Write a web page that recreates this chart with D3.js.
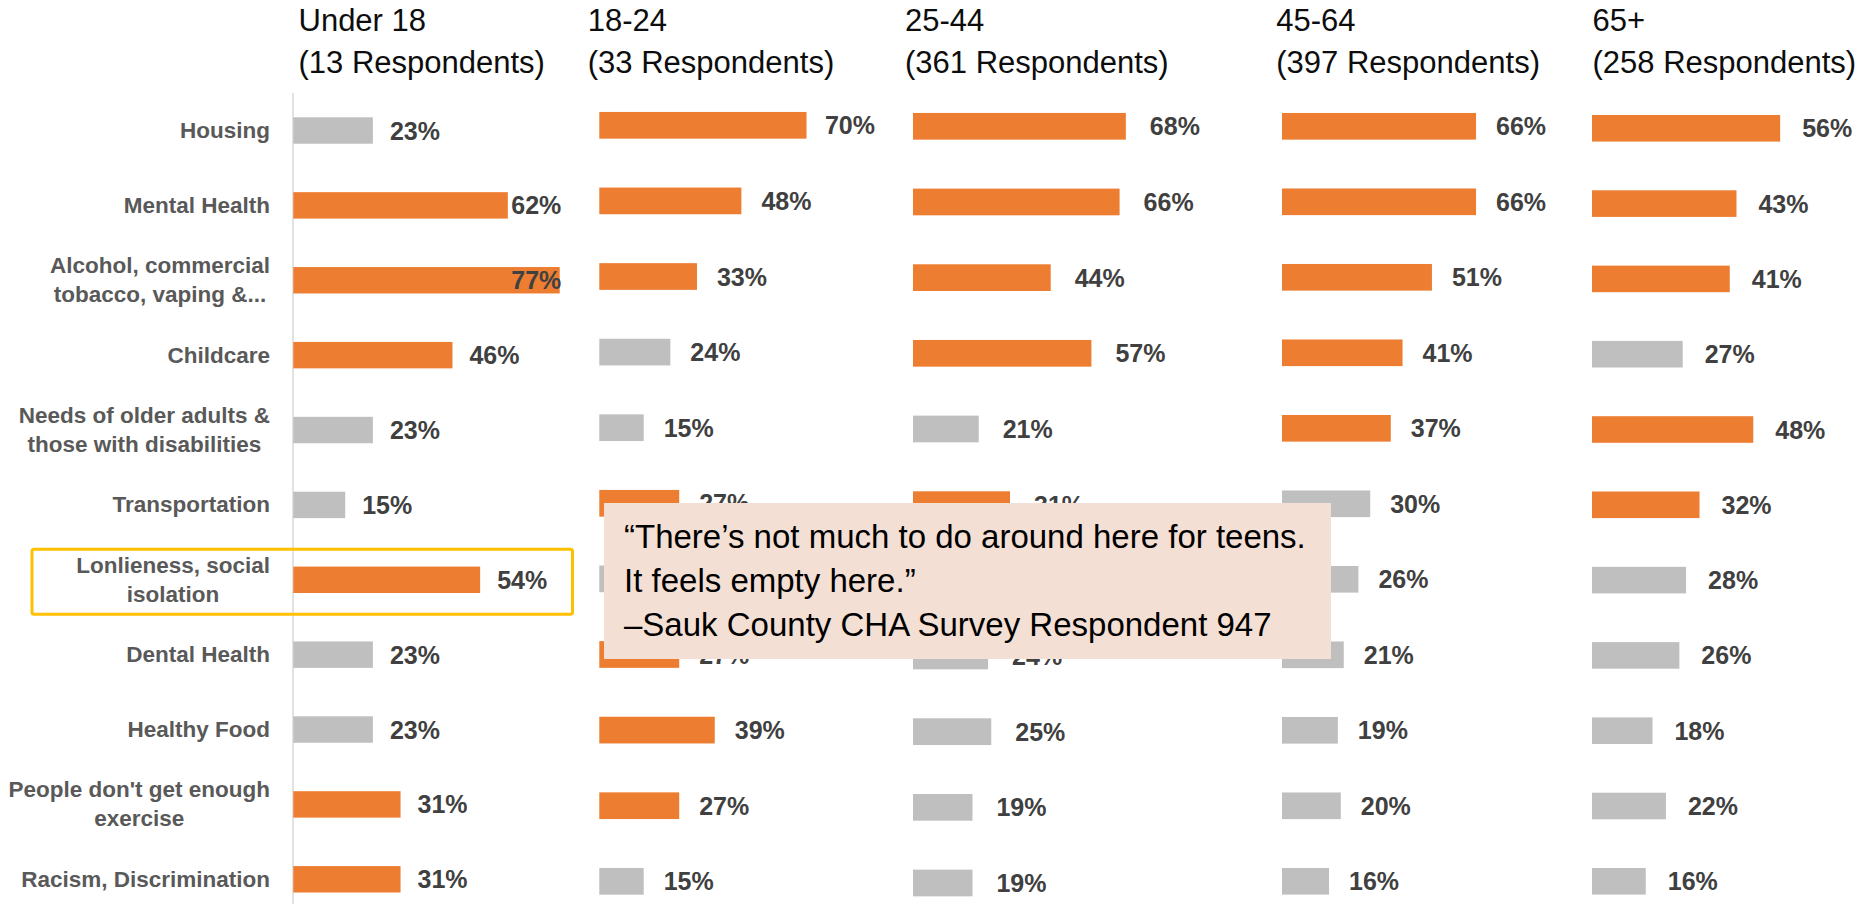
<!DOCTYPE html>
<html>
<head>
<meta charset="utf-8">
<script src="https://cdn.jsdelivr.net/npm/d3@7"></script>
<style>
  body { margin: 0; background: #fff; }
  svg { display: block; font-family: "Liberation Sans", Arial, sans-serif; }
</style>
</head>
<body>
<div id="container"></div>
<script>
const categories = [
  "Housing",
  "Mental Health",
  "Alcohol, commercial\ntobacco, vaping &...",
  "Childcare",
  "Needs of older adults &\nthose with disabilities",
  "Transportation",
  "Lonlieness, social\nisolation",
  "Dental Health",
  "Healthy Food",
  "People don't get enough\nexercise",
  "Racism, Discrimination"
];

const groupNames = ["Under 18", "18-24", "25-44", "45-64", "65+"];
const respondents = [13, 33, 361, 397, 258];

// percent values per age group, same order as categories
const under18 = [23, 62, 77, 46, 23, 15, 54, 23, 23, 31, 31];
const age18to24 = [70, 48, 33, 24, 15, 27, 18, 27, 39, 27, 15];
const age25to44 = [68, 66, 44, 57, 21, 31, 20, 24, 25, 19, 19];
const age45to64 = [66, 66, 51, 41, 37, 30, 26, 21, 19, 20, 16];
const age65plus = [56, 43, 41, 27, 48, 32, 28, 26, 18, 22, 16];

// 1 = highlighted (orange), 0 = grey
const under18Top = [0, 1, 1, 1, 0, 0, 1, 0, 0, 1, 1];
const age18to24Top = [1, 1, 1, 0, 0, 1, 0, 1, 1, 1, 0];
const age25to44Top = [1, 1, 1, 1, 0, 1, 0, 0, 0, 0, 0];
const age45to64Top = [1, 1, 1, 1, 1, 0, 0, 0, 0, 0, 0];
const age65plusTop = [1, 1, 1, 0, 1, 1, 0, 0, 0, 0, 0];

const quoteLines = [
  "\u201CThere\u2019s not much to do around here for teens.",
  "It feels empty here.\u201D",
  "\u2013Sauk County CHA Survey Respondent 947"
];
const highlightCategory = "Lonlieness, social\nisolation";

const w = 1872;
const h = 904;
const orange = "#ED7D31";
const grey = "#BFBFBF";

const seriesValues = [under18, age18to24, age25to44, age45to64, age65plus];
const seriesTop = [under18Top, age18to24Top, age25to44Top, age45to64Top, age65plusTop];

// layout of the five small charts
const panelX = [293.3, 599.3, 913, 1282, 1592];
const panelWidth = [346, 296, 313, 294, 336];
const panelFirstRow = [130.5, 125.3, 126.3, 126.3, 128.3];
const panelStep = [74.88, 75.6, 75.67, 75.5, 75.3];
const labelGap = [17, 20, 24, 20, 22];
const headerX = [298.5, 587.8, 905, 1276.3, 1592.5];

// the quote box sits on top of part of the chart
const box = { x: 604, y: 503, w: 727, h: 156 };

const svg = d3.select("#container")
  .append("svg")
  .attr("width", w)
  .attr("height", h);

const makeY = i => {
  const top = panelFirstRow[i] - panelStep[i] / 2;
  return d3.scaleBand()
    .domain(categories)
    .range([top, top + panelStep[i] * categories.length])
    .paddingInner(0.647)
    .paddingOuter(0.3235);
};

// headers
groupNames.forEach((name, i) => {
  const t = svg.append("text")
    .attr("x", headerX[i])
    .attr("fill", "#0D0D0D")
    .style("font-size", "31px");
  t.append("tspan").attr("x", headerX[i]).attr("y", 31).text(name);
  t.append("tspan").attr("x", headerX[i]).attr("y", 73)
    .text(`(${respondents[i]} Respondents)`);
});

// category labels (use first panel's scale)
const y0 = makeY(0);
const catFont = 22.5;
const catLineH = 29;
const catRight = 270;
const catG = svg.append("g").attr("id", "categories");

categories.forEach(c => {
  const lines = c.split("\n");
  const cy = y0(c) + y0.bandwidth() / 2;
  const t = catG.append("text")
    .attr("fill", "#595959")
    .style("font-size", catFont + "px")
    .style("font-weight", "bold")
    .style("text-anchor", "middle");
  const spans = lines.map((line, j) => t.append("tspan")
    .attr("y", cy + catFont * 0.33 - (lines.length - 1) * catLineH / 2 + j * catLineH)
    .text(line));
  const maxW = d3.max(spans, s => s.node().getComputedTextLength());
  spans.forEach(s => s.attr("x", catRight - maxW / 2));
});

// axis line of the first chart
svg.append("line")
  .attr("x1", 293).attr("x2", 293)
  .attr("y1", 93).attr("y2", h)
  .attr("stroke", "#D9D9D9")
  .attr("stroke-width", 1.5);

// bars and labels
seriesValues.forEach((vals, i) => {
  const x = d3.scaleLinear()
    .domain([0, 100])
    .range([panelX[i], panelX[i] + panelWidth[i]]);
  const y = makeY(i);
  const limit = i < panelX.length - 1 ? panelX[i + 1] - 38 : w;
  const rows = categories.map((c, k) => ({ cat: c, v: vals[k], top: seriesTop[i][k] }));

  const g = svg.append("g").attr("class", "panel");

  g.selectAll("rect")
    .data(rows)
    .enter()
    .append("rect")
    .attr("x", x(0))
    .attr("y", d => y(d.cat))
    .attr("width", d => x(d.v) - x(0))
    .attr("height", y.bandwidth())
    .attr("fill", d => d.top ? orange : grey);

  g.selectAll("text")
    .data(rows)
    .enter()
    .append("text")
    .text(d => d.v + "%")
    .attr("y", d => y(d.cat) + y.bandwidth() / 2 + 9)
    .attr("fill", "#404040")
    .style("font-size", "25px")
    .style("font-weight", "bold")
    .attr("x", function (d) {
      const tw = this.getComputedTextLength();
      return Math.min(x(d.v) + labelGap[i], limit - tw);
    })
    .each(function () {
      // drop labels that end up completely under the quote box
      const b = this.getBBox();
      if (b.x >= box.x && b.x + b.width <= box.x + box.w &&
          b.y >= box.y && b.y + b.height <= box.y + box.h) {
        d3.select(this).remove();
      }
    });
});

// highlight box round one category
const hy = y0(highlightCategory) + y0.bandwidth() / 2;
svg.append("rect")
  .attr("x", 32)
  .attr("y", hy - 30.5)
  .attr("width", 540.5)
  .attr("height", 65)
  .attr("rx", 2)
  .attr("fill", "none")
  .attr("stroke", "#FFC000")
  .attr("stroke-width", 3);

// quote box
const quote = svg.append("g").attr("id", "quote");
quote.append("rect")
  .attr("x", box.x)
  .attr("y", box.y)
  .attr("width", box.w)
  .attr("height", box.h)
  .attr("fill", "#F4DFD4");

quote.selectAll("text")
  .data(quoteLines)
  .enter()
  .append("text")
  .text(d => d)
  .attr("x", 624)
  .attr("y", (d, i) => 548 + i * 44)
  .attr("fill", "#000")
  .style("font-size", "33px");
</script>
</body>
</html>
